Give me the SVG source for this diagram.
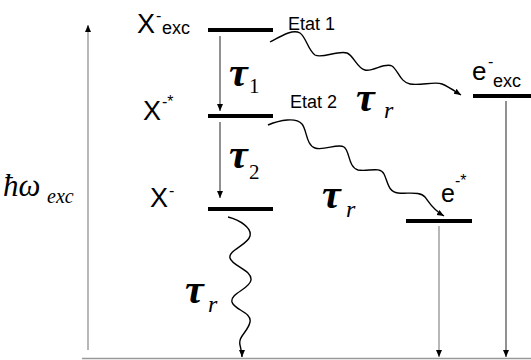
<svg xmlns="http://www.w3.org/2000/svg" width="531" height="360" viewBox="0 0 531 360">
<style>
.bar{stroke:#000;stroke-width:4;fill:none}
.thin{stroke:#222;stroke-width:1;fill:none}
.gray{stroke:#888;stroke-width:1.2;fill:none}
.wave{stroke:#000;stroke-width:1.4;fill:none}
.lbl{font-family:"Liberation Sans",Arial,sans-serif;fill:#000}
.tau{font-family:"Liberation Serif","Times New Roman",serif;font-style:italic;font-weight:bold;fill:#000}
.sub{font-family:"Liberation Serif","Times New Roman",serif;fill:#000}
.subi{font-family:"Liberation Serif","Times New Roman",serif;font-style:italic;fill:#000}
</style>
<defs>
<marker id="ah" markerWidth="8" markerHeight="8" refX="7" refY="4" orient="auto" markerUnits="userSpaceOnUse">
<path d="M0,1 L7,4 L0,7 Z" fill="#000"/>
</marker>
</defs>
<g id="axis">
<line class="gray" x1="88" y1="350" x2="88" y2="25" marker-end="url(#ah)"/>
<line x1="82" y1="358.5" x2="531" y2="358.5" stroke="#999" stroke-width="1.5"/>
<text class="subi" x="3" y="196" font-size="31">ħω</text>
<text class="subi" x="47" y="203" font-size="20">exc</text>
</g>
<g id="X-exc">
<line class="bar" x1="208" y1="30" x2="273" y2="30"/>
<text class="lbl" x="137" y="33" font-size="27">X</text>
<text class="lbl" x="156" y="21" font-size="16">-</text>
<text class="lbl" x="162" y="34" font-size="18">exc</text>
<text class="lbl" x="288" y="30" font-size="18">Etat 1</text>
</g>
<g id="X-star">
<line class="bar" x1="208" y1="116" x2="273" y2="116"/>
<text class="lbl" x="143" y="120" font-size="27">X</text>
<text class="lbl" x="162" y="107" font-size="16">-*</text>
<text class="lbl" x="290" y="108" font-size="18">Etat 2</text>
</g>
<g id="X-">
<line class="bar" x1="208" y1="209" x2="273" y2="209"/>
<text class="lbl" x="150" y="207" font-size="27">X</text>
<text class="lbl" x="169" y="196" font-size="16">-</text>
</g>
<g id="e-exc">
<line class="bar" x1="473" y1="96" x2="531" y2="96"/>
<text class="lbl" x="472" y="80" font-size="26">e</text>
<text class="lbl" x="488" y="67" font-size="16">-</text>
<text class="lbl" x="493" y="87" font-size="18">exc</text>
</g>
<g id="e-star">
<line class="bar" x1="406" y1="221" x2="472" y2="221"/>
<text class="lbl" x="441" y="202" font-size="25">e</text>
<text class="lbl" x="455" y="186" font-size="16">-*</text>
</g>
<g id="connectors">
<line class="thin" x1="220" y1="36" x2="220" y2="111" marker-end="url(#ah)"/>
<line class="thin" x1="220" y1="122" x2="220" y2="198" marker-end="url(#ah)"/>
<line class="gray" x1="439" y1="226" x2="439" y2="357" marker-end="url(#ah)"/>
<line class="thin" x1="506" y1="101" x2="506" y2="357" marker-end="url(#ah)"/>
<path class="wave" d="M270,42 C283,35 293,29 300,33 C306,37 308,50 315,55 C322,59 338,50 347,53 C354,56 357,68 365,70 C373,72 385,62 392,66 C398,70 400,82 410,84 C420,86 435,81 442,84 C449,87 453,90 461,95" marker-end="url(#ah)"/>
<path class="wave" d="M268,125 C280,120 296,117 302,124 C307,130 306,145 315,148 C324,151 338,143 344,147 C350,151 348,167 358,170 C368,172 380,166 384,174 C388,182 388,192 398,193 C408,194 420,191 425,197 C429,202 432,209 444,216" marker-end="url(#ah)"/>
<path class="wave" d="M228,217 C240,220 252,228 250,236 C248,245 228,250 230,258 C232,266 252,270 251,280 C250,289 230,293 232,302 C234,310 252,312 250,322 C248,332 238,336 240,345 C241,350 242,353 242,357" marker-end="url(#ah)"/>
<text class="tau" x="229" y="86" font-size="42">τ</text>
<text class="sub" x="249" y="93" font-size="21">1</text>
<text class="tau" x="229" y="168" font-size="42">τ</text>
<text class="sub" x="249" y="179" font-size="21">2</text>
<text class="tau" x="356" y="111" font-size="42">τ</text>
<text class="subi" x="384" y="118" font-size="24">r</text>
<text class="tau" x="322" y="208" font-size="42">τ</text>
<text class="subi" x="346" y="217" font-size="24">r</text>
<text class="tau" x="185" y="303" font-size="42">τ</text>
<text class="subi" x="208" y="312" font-size="24">r</text>
</g>
</svg>
